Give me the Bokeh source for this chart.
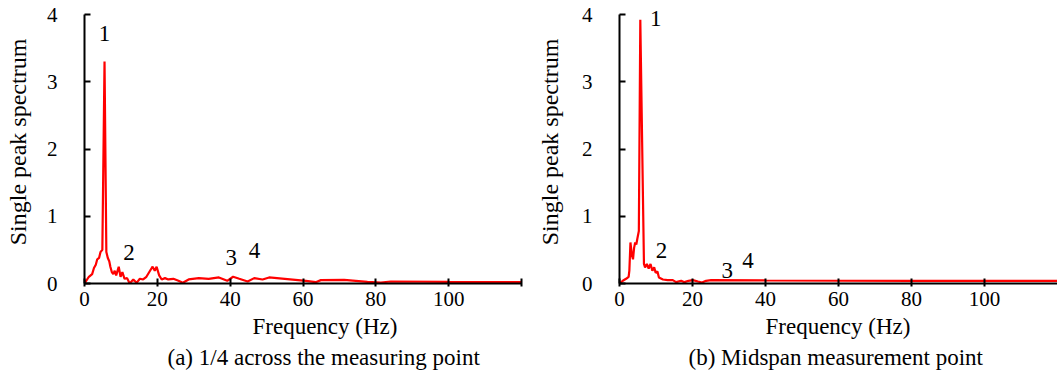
from bokeh.plotting import figure
from bokeh.layouts import row
from bokeh.models import Range1d, FixedTicker, Label, Title
from bokeh.embed import file_html
from bokeh.resources import INLINE

# ---- data ----
freq_a = [0, 1.2, 2.1, 2.6, 3.1, 3.5, 4.0, 4.4, 4.9, 5.5, 6.0, 6.4, 6.8, 7.1, 7.5, 7.9,
          8.3, 8.7, 9.4, 9.9, 10.4, 11.0, 11.7, 12.4, 13.4, 14.3, 15.2, 16.1, 17.0, 18.0,
          18.7, 19.3, 19.8, 20.5, 21.2, 22.1, 23.0, 24.4, 25.8, 27.0, 28.6, 31.4, 34.1,
          36.9, 39.2, 40.8, 42.5, 44.8, 46.6, 48.9, 50.7, 55.0, 60.8, 63.5, 64.9, 71.3,
          77.7, 81.4, 84.1, 100.0, 120.0]
amp_a = [0, 0.10, 0.14, 0.23, 0.28, 0.36, 0.38, 0.47, 0.50, 3.30, 0.47, 0.38, 0.33, 0.25,
         0.17, 0.14, 0.19, 0.12, 0.25, 0.10, 0.17, 0.07, 0.08, 0.0, 0.06, 0.01, 0.07, 0.06,
         0.10, 0.19, 0.25, 0.19, 0.25, 0.12, 0.06, 0.08, 0.06, 0.07, 0.04, 0.01, 0.06, 0.08,
         0.07, 0.09, 0.04, 0.10, 0.07, 0.03, 0.08, 0.06, 0.09, 0.07, 0.04, 0.02, 0.05, 0.055,
         0.025, 0.015, 0.03, 0.025, 0.02]

freq_b = [0, 0.9, 1.8, 2.5, 2.7, 3.0, 3.4, 3.7, 4.0, 4.3, 4.6, 4.9, 5.3, 5.7, 6.7, 7.0,
          7.5, 8.0, 8.5, 9.0, 9.5, 9.9, 10.4, 10.8, 11.9, 13.2, 14.6, 15.5, 16.9, 17.8,
          18.9, 20.1, 21.5, 22.6, 23.7, 25.1, 40.0, 80.0, 120.0]
amp_b = [0, 0.04, 0.07, 0.10, 0.19, 0.61, 0.42, 0.36, 0.53, 0.61, 0.58, 0.67, 0.78, 3.92,
         0.29, 0.24, 0.29, 0.22, 0.29, 0.19, 0.24, 0.16, 0.18, 0.09, 0.06, 0.05, 0.05, 0.02,
         0.04, 0.02, 0.04, 0.05, 0.03, 0.015, 0.04, 0.05, 0.045, 0.04, 0.04]

x_ticks = [0, 20, 40, 60, 80, 100]
y_ticks = [0, 1, 2, 3, 4]
peak_labels = ["1", "2", "3", "4"]
peaks_a_x = [5.5, 12.2, 40.3, 46.7]
peaks_a_y = [3.72, 0.46, 0.39, 0.49]
peaks_b_x = [9.9, 11.5, 29.5, 35.2]
peaks_b_y = [3.94, 0.49, 0.19, 0.34]

FONT = "Liberation Serif"
TICK_FS = "21px"
FS = "23px"
YL_FS = "24px"
Y_TOP = 4 * 283 / 269  # frame extends to window top so that y=4 sits 14 px below it


def make_panel(freq, amp, px, py, width, frame_w, left, right, y_label_standoff,
               xlabel_off, caption, caption_off, end_tick):
    p = figure(width=width, height=375, frame_width=frame_w, frame_height=283,
               output_backend="svg", toolbar_location=None,
               x_range=Range1d(0, 120), y_range=Range1d(0, Y_TOP),
               min_border_left=left, min_border_right=right,
               min_border_top=0, min_border_bottom=92)
    p.outline_line_color = None
    p.grid.visible = False
    p.background_fill_color = "white"
    p.border_fill_color = "white"

    p.line(freq, amp, line_color="#ff0000", line_width=2.2)

    ticks = x_ticks + ([120] if end_tick else [])
    xa = p.xaxis[0]
    xa.ticker = FixedTicker(ticks=ticks)
    xa.major_label_overrides = {120: ""}
    xa.minor_tick_line_color = None
    xa.major_tick_in = 5
    xa.major_tick_out = 3
    xa.major_tick_line_width = 2
    xa.axis_line_width = 2
    xa.axis_line_color = "black"
    xa.major_tick_line_color = "black"
    xa.major_label_text_font = FONT
    xa.major_label_text_font_size = TICK_FS
    xa.major_label_text_color = "black"
    xa.major_label_standoff = 5

    ya = p.yaxis[0]
    ya.bounds = (0, 4)
    ya.ticker = FixedTicker(ticks=y_ticks)
    ya.minor_tick_line_color = None
    ya.major_tick_in = 6
    ya.major_tick_out = 0
    ya.major_tick_line_width = 2
    ya.axis_line_width = 2
    ya.axis_line_color = "black"
    ya.major_tick_line_color = "black"
    ya.major_label_text_font = FONT
    ya.major_label_text_font_size = TICK_FS
    ya.major_label_text_color = "black"
    ya.major_label_standoff = 27
    ya.axis_label = "Single peak spectrum"
    ya.axis_label_text_font = FONT
    ya.axis_label_text_font_size = YL_FS
    ya.axis_label_text_font_style = "normal"
    ya.axis_label_text_color = "black"
    ya.axis_label_standoff = y_label_standoff

    for t, x, y in zip(peak_labels, px, py):
        p.add_layout(Label(x=x, y=y, text=t, text_font=FONT, text_font_size=FS,
                           text_align="center", text_baseline="middle",
                           text_color="black"))

    p.add_layout(Title(text="Frequency (Hz)", align="left", offset=xlabel_off,
                       text_font=FONT, text_font_size=FS, text_font_style="normal",
                       text_color="black", standoff=6), "below")
    p.add_layout(Title(text=caption, align="left", offset=caption_off,
                       text_font=FONT, text_font_size=FS, text_font_style="normal",
                       text_color="black", standoff=2), "below")
    return p


p1 = make_panel(freq_a, amp_a, peaks_a_x, peaks_a_y, 530, 437, 84, 9, 13, 168,
                "(a) 1/4 across the measuring point", 83, True)
p2 = make_panel(freq_b, amp_b, peaks_b_x, peaks_b_y, 527, 438, 89, 0, 16, 146,
                "(b) Midspan measurement point", 69, False)

layout = row(p1, p2, spacing=0)
open("out.html", "w").write(file_html(layout, INLINE))
